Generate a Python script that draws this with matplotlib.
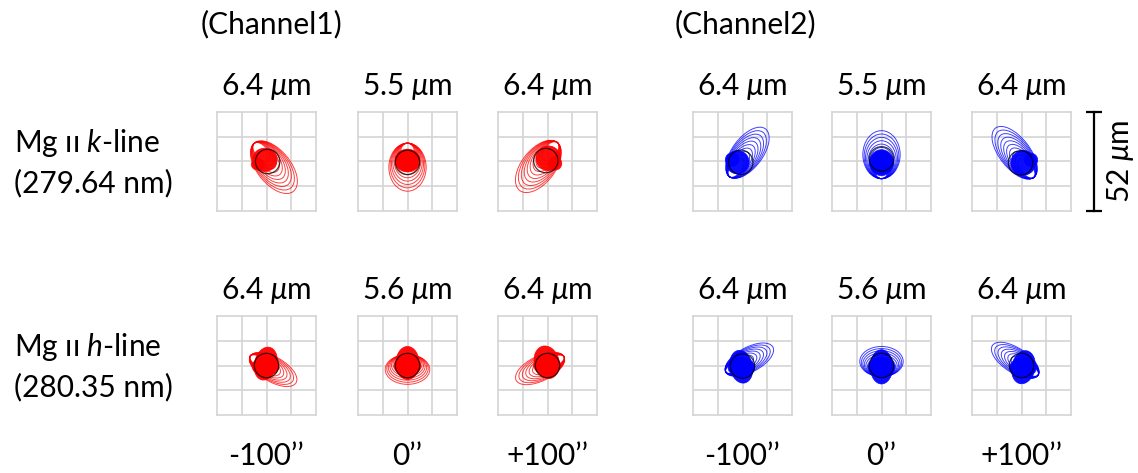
import matplotlib
matplotlib.use('Agg')
import matplotlib.pyplot as plt
from matplotlib.patches import Ellipse, Circle
from matplotlib.transforms import blended_transform_factory

plt.rcParams['font.family'] = ['Lato', 'DejaVu Sans']
plt.rcParams['mathtext.fontset'] = 'custom'
plt.rcParams['mathtext.rm'] = 'Lato'
plt.rcParams['mathtext.it'] = 'Lato:italic'

# labels
channel_titles = ['(Channel1)', '(Channel2)']
line_names = ['Mg ıı $k$-line', 'Mg ıı $h$-line']
line_waves = ['(279.64 nm)', '(280.35 nm)']
field_labels = ['-100’’', '0’’', '+100’’']
# spot size per panel, row = k-line / h-line, cols = ch1 (-100,0,+100), ch2 (-100,0,+100)
spot_sizes = [['6.4', '5.5', '6.4', '6.4', '5.5', '6.4'],
              ['6.4', '5.6', '6.4', '6.4', '5.6', '6.4']]
scale_um = 52
channel_colors = ['#ff0000', '#0000ff']

# panel order: k ch1 -100, 0, +100, ch2 -100, 0, +100, then h-line the same (um)
ring_cx = [3.9, 0.0, -4.8, 2.6, 0.0, -3.6, 3.5, 0.0, -3.9, 3.6, 0.0, -3.3]
ring_cy = [-3.0, -3.0, -2.6, 4.6, 3.6, 4.6, -2.1, -2.1, -1.6, 3.1, 2.1, 2.7]
ring_a = [16.3, 9.8, 16.0, 15.7, 9.8, 16.4, 13.9, 11.7, 14.0, 14.0, 11.4, 14.3]
ring_b = [8.8, 12.6, 8.8, 8.0, 12.6, 8.0, 6.5, 7.8, 6.5, 6.5, 7.9, 6.5]
ring_ang = [-51, 0, 52, 53, 0, -52, -30, 0, 26, 28, 0, -33]
tip_x = [-6.4, 0.0, 5.2, -6.9, 0.0, 6.4, -8.7, 0.0, 8.7, -8.8, 0.0, 8.8]
tip_y = [9.5, 9.6, 10.0, -8.1, -9.0, -8.5, 4.9, 5.7, 4.7, -3.3, -5.9, -5.0]
ring_scales = [0.37, 0.44, 0.51, 0.58, 0.65, 0.72, 0.79, 0.86, 0.93, 1.0]

blob_x = [-0.9, 0.0, 0.4, -2.6, 0.0, 0.9, -0.4, 0.0, -0.4, -0.65, 0.0, 1.0]
blob_y = [0.9, 0.5, 1.7, -0.4, -0.6, -0.7, 1.0, 1.3, 1.7, -0.65, -0.7, -0.9]
blob_w = [6.5, 6.6, 6.5, 6.1, 6.3, 6.5, 5.9, 6.1, 6.5, 5.9, 5.9, 6.1]
blob_h = [6.1, 6.0, 6.5, 6.1, 6.8, 6.5, 8.8, 8.7, 8.7, 8.7, 9.0, 8.8]
blob_ang = [0, 0, 0, 0, 0, 0, -14, 0, 15, 12, 0, -12]

lobe_x = [-4.5, 0.0, 4.0, -5.5, 0.0, 5.0, -0.5, 0.0, -0.3, -0.6, 0.0, 0.8]
lobe_y = [-1.5, 0.5, -1.0, 1.0, -0.6, 0.8, -0.5, -0.2, 0.2, -1.0, -1.0, -1.2]
lobe_w = [3.5, 6.0, 3.5, 3.5, 6.0, 3.5, 7.0, 7.0, 7.0, 7.0, 7.0, 7.0]
lobe_h = [3.0, 5.5, 3.5, 3.5, 6.0, 3.5, 5.0, 5.0, 5.0, 5.0, 5.0, 5.0]

circ_x = [0.6, 0.0, -0.9, -0.9, 0.0, -0.5, 0.0, 0.0, 0.0, 0.0, 0.0, 0.0]
circ_y = [0.0, -0.5, 0.5, -0.4, 1.4, -0.7, 0.0, 0.0, 0.0, -0.3, 0.0, 0.0]
circ_r = 6.4

W, H = 1138, 473
FS = 21.5
fig = plt.figure(figsize=(W / 100, H / 100), dpi=100)

S = 99
col_left = [217, 358, 498, 693, 832, 972]
row_top = [112, 316]
grid_col = '#d4d4d4'

axes = {}
for i in range(12):
    row, col = i // 6, i % 6
    color = channel_colors[col // 3]
    x0, y0 = col_left[col], row_top[row]
    ax = fig.add_axes([x0 / W, 1 - (y0 + S) / H, S / W, S / H])
    axes[i] = ax
    ax.set_xlim(-scale_um / 2, scale_um / 2)
    ax.set_ylim(-scale_um / 2, scale_um / 2)
    ax.set_xticks([-13, 0, 13])
    ax.set_yticks([-13, 0, 13])
    ax.grid(True, color=grid_col, lw=1.2)
    ax.set_axisbelow(True)
    ax.tick_params(length=0, labelbottom=False, labelleft=False)
    for sp in ax.spines.values():
        sp.set_color(grid_col)
        sp.set_linewidth(1.2)

    # nested contour rings converging to the tip
    for s in ring_scales:
        cx = tip_x[i] + s * (ring_cx[i] - tip_x[i])
        cy = tip_y[i] + s * (ring_cy[i] - tip_y[i])
        ax.add_patch(Ellipse((cx, cy), 2 * ring_a[i] * s, 2 * ring_b[i] * s,
                             angle=ring_ang[i], fill=False, ec=color,
                             lw=0.7, alpha=0.75, zorder=2))
    # spot
    ax.add_patch(Ellipse((blob_x[i], blob_y[i]), 2 * blob_w[i], 2 * blob_h[i],
                         angle=blob_ang[i], fc=color, ec=color, lw=0.5, alpha=0.95, zorder=3))
    ax.add_patch(Ellipse((lobe_x[i], lobe_y[i]), 2 * lobe_w[i], 2 * lobe_h[i],
                         fc=color, ec=color, lw=0.5, alpha=0.95, zorder=3))
    ax.add_patch(Circle((circ_x[i], circ_y[i]), circ_r, fill=False, ec='black',
                        lw=0.9, alpha=0.75, zorder=4))

    # spot size label
    fig.text((x0 + S / 2) / W, 1 - (95 if row == 0 else 299) / H,
             spot_sizes[row][col] + r' $\mu$m', ha='center', va='baseline', fontsize=FS)
    if row == 1:
        fig.text((x0 + S / 2) / W, 1 - 465 / H, field_labels[col % 3],
                 ha='center', va='baseline', fontsize=FS)

# channel titles
fig.text(272 / W, 1 - 33 / H, channel_titles[0], ha='center', va='baseline', fontsize=FS)
fig.text(745 / W, 1 - 33 / H, channel_titles[1], ha='center', va='baseline', fontsize=FS)

# row labels
for row in range(2):
    base = row_top[row] - 112
    fig.text(14 / W, 1 - (152 + base) / H, line_names[row], ha='left', va='baseline', fontsize=FS)
    fig.text(14 / W, 1 - (192 + base) / H, line_waves[row], ha='left', va='baseline', fontsize=FS)

# scale bar on the top right panel
ax = axes[5]
tr = blended_transform_factory(ax.transAxes, ax.transData)
ax.plot([1.235, 1.235], [-scale_um / 2, scale_um / 2], color='black', lw=1.6,
        marker='_', markersize=11, markeredgewidth=1.6, transform=tr, clip_on=False)
ax.text(1.50, 0, f'{scale_um}' + r' $\mu$m', rotation=90, ha='center', va='center',
        fontsize=FS, transform=tr, clip_on=False)

fig.savefig('out.png', dpi=100)
